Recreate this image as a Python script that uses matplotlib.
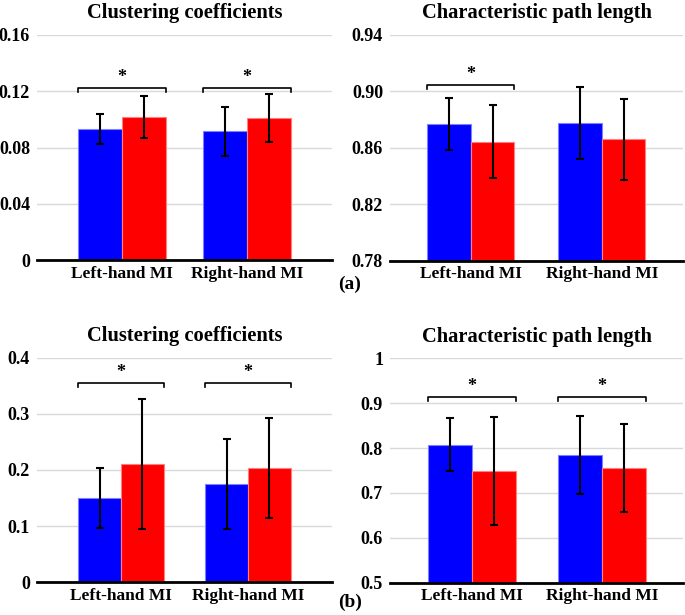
import matplotlib
matplotlib.use('Agg')
import matplotlib.pyplot as plt

plt.rcParams['font.family'] = 'Liberation Serif'
plt.rcParams['font.weight'] = 'bold'

groups = ['Left-hand MI', 'Right-hand MI']

# (a) clustering coefficients
cc_a_blue = [0.0934, 0.0915]
cc_a_blue_err = [0.0107, 0.0172]
cc_a_red = [0.1015, 0.1010]
cc_a_red_err = [0.0150, 0.0170]

# (a) characteristic path length
pl_a_blue = [0.8771, 0.8776]
pl_a_blue_err = [0.0184, 0.0257]
pl_a_red = [0.8644, 0.8660]
pl_a_red_err = [0.0257, 0.0285]

# (b) clustering coefficients
cc_b_blue = [0.1496, 0.1750]
cc_b_blue_err = [0.0534, 0.0793]
cc_b_red = [0.2112, 0.2040]
cc_b_red_err = [0.1157, 0.0890]

# (b) characteristic path length
pl_b_blue = [0.8075, 0.7846]
pl_b_blue_err = [0.0597, 0.0862]
pl_b_red = [0.7490, 0.7560]
pl_b_red_err = [0.1210, 0.0980]

panels = [
    dict(pos=[0.054, 0.5772, 0.4307, 0.3659], title='Clustering coefficients',
         blue=cc_a_blue, blue_err=cc_a_blue_err, red=cc_a_red, red_err=cc_a_red_err,
         ylim=(0, 0.16), yticks=[0, 0.04, 0.08, 0.12, 0.16],
         ylabels=['0', '0.04', '0.08', '0.12', '0.16'],
         xlim=(-0.678, 1.68), width=0.35, sig=[0, 1], brack=0.1226),
    dict(pos=[0.5693, 0.5762, 0.4277, 0.3669], title='Characteristic path length',
         blue=pl_a_blue, blue_err=pl_a_blue_err, red=pl_a_red, red_err=pl_a_red_err,
         ylim=(0.78, 0.94), yticks=[0.78, 0.82, 0.86, 0.90, 0.94],
         ylabels=['0.78', '0.82', '0.86', '0.90', '0.94'],
         xlim=(-0.618, 1.618), width=0.332, sig=[0], brack=0.9044),
    dict(pos=[0.054, 0.0532, 0.4307, 0.3652], title='Clustering coefficients',
         blue=cc_b_blue, blue_err=cc_b_blue_err, red=cc_b_red, red_err=cc_b_red_err,
         ylim=(0, 0.4), yticks=[0, 0.1, 0.2, 0.3, 0.4],
         ylabels=['0', '0.1', '0.2', '0.3', '0.4'],
         xlim=(-0.661, 1.661), width=0.335, sig=[0, 1], brack=0.3544),
    dict(pos=[0.5693, 0.0525, 0.4277, 0.3649], title='Characteristic path length',
         blue=pl_b_blue, blue_err=pl_b_blue_err, red=pl_b_red, red_err=pl_b_red_err,
         ylim=(0.5, 1.0), yticks=[0.5, 0.6, 0.7, 0.8, 0.9, 1.0],
         ylabels=['0.5', '0.6', '0.7', '0.8', '0.9', '1'],
         xlim=(-0.63, 1.62), width=0.338, sig=[0, 1], brack=0.9136),
]

fig = plt.figure(figsize=(6.85, 6.15), dpi=100)

for p in panels:
    ax = fig.add_axes(p['pos'])
    w = p['width']
    x = [0, 1]
    xb = [i - w / 2 for i in x]
    xr = [i + w / 2 for i in x]
    ax.bar(xb, p['blue'], w, color='#0000ff', edgecolor='#8080ff', linewidth=0.8, zorder=2)
    ax.bar(xr, p['red'], w, color='#ff0000', edgecolor='#ff8080', linewidth=0.8, zorder=2)
    ax.errorbar(xb, p['blue'], yerr=p['blue_err'], fmt='none', ecolor='black',
                elinewidth=1.5, capsize=3, capthick=1.5, zorder=3)
    ax.errorbar(xr, p['red'], yerr=p['red_err'], fmt='none', ecolor='black',
                elinewidth=1.5, capsize=3, capthick=1.5, zorder=3)

    ax.set_xlim(*p['xlim'])
    ax.set_ylim(*p['ylim'])
    ax.set_yticks(p['yticks'])
    ax.set_yticklabels(p['ylabels'], fontsize=13, fontweight='bold')
    ax.set_xticks(x)
    ax.set_xticklabels(groups, fontsize=12.5, fontweight='bold')
    ax.tick_params(axis='both', length=0)
    ax.tick_params(axis='x', pad=4)
    ax.tick_params(axis='y', pad=5)
    ax.yaxis.grid(True, color='#d9d9d9', linewidth=1.0, zorder=0)
    ax.set_axisbelow(True)
    for s in ['top', 'right', 'left']:
        ax.spines[s].set_visible(False)
    ax.spines['bottom'].set_linewidth(2)
    ax.spines['bottom'].set_color('black')
    ax.set_title(p['title'], fontsize=14.8, fontweight='bold', pad=12)

    rng = p['ylim'][1] - p['ylim'][0]
    tip = 0.018 * rng
    for g in p['sig']:
        x0 = g - w
        x1 = g + w
        y = p['brack']
        ax.plot([x0, x0, x1, x1], [y - tip, y, y, y - tip], color='black',
                linewidth=1.2, clip_on=False, zorder=4)
        ax.text(g, y + 0.008 * rng, '*', ha='center', va='bottom', fontsize=13,
                fontweight='bold')

fig.text(0.511, 0.538, '(a)', fontsize=14, fontweight='bold', ha='center', va='center')
fig.text(0.511, 0.020, '(b)', fontsize=14, fontweight='bold', ha='center', va='center')

fig.savefig('out.png', dpi=100)
